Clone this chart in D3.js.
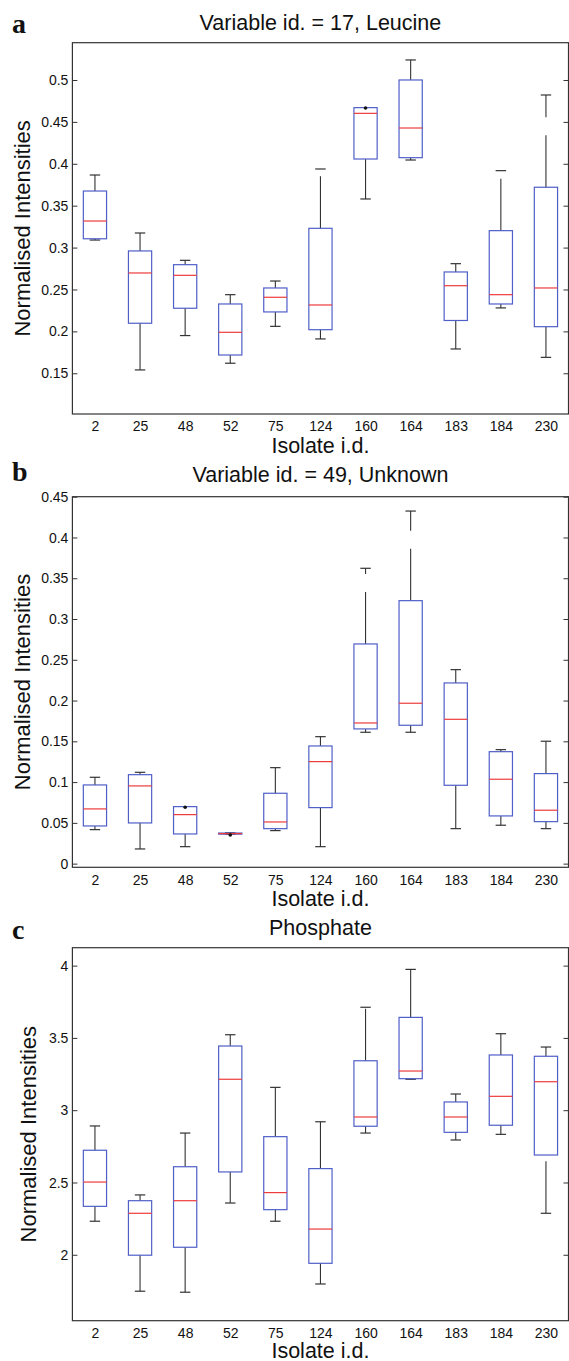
<!DOCTYPE html>
<html>
<head>
<meta charset="utf-8">
<script src="https://cdn.jsdelivr.net/npm/d3@7"></script>
<style>
  body { margin: 0; background: #fff; }
  svg text { font-family: "Liberation Sans", Arial, sans-serif; fill: #111; }
</style>
</head>
<body>
<div id="chart"></div>
<script>
// isolate ids (x categories, same for every panel)
var isolates = ["2", "25", "48", "52", "75", "124", "160", "164", "183", "184", "230"];

// panel a: Variable id. = 17, Leucine
var leuLo  = [0.309, 0.154, 0.195, 0.162, 0.206, 0.191, 0.358, 0.4045, 0.179, 0.228, 0.169];
var leuQ1  = [0.3105, 0.2097, 0.2276, 0.1718, 0.2232, 0.202, 0.4057, 0.4073, 0.213, 0.2327, 0.2056];
var leuMed = [0.3317, 0.2697, 0.2669, 0.1989, 0.2407, 0.2315, 0.4602, 0.4427, 0.2545, 0.2438, 0.2518];
var leuQ3  = [0.3675, 0.296, 0.2796, 0.2327, 0.2518, 0.323, 0.467, 0.5, 0.2709, 0.3202, 0.372];
var leuHi  = [0.3866, 0.3174, 0.2848, 0.2438, 0.2601, 0.3938, 0.467, 0.5239, 0.2808, 0.3918, 0.4821];
var leuOut = [[6, 0.4665]];
var leuTicks = [0.15, 0.2, 0.25, 0.3, 0.35, 0.4, 0.45, 0.5];
var leuTickLabels = ["0.15", "0.2", "0.25", "0.3", "0.35", "0.4", "0.45", "0.5"];

// panel b: Variable id. = 49, Unknown
var unkLo  = [0.0417, 0.018, 0.0208, 0.036, 0.0405, 0.0208, 0.1611, 0.1611, 0.0429, 0.0471, 0.0429];
var unkQ1  = [0.0462, 0.0499, 0.0364, 0.0362, 0.0429, 0.0687, 0.1652, 0.1697, 0.0961, 0.0585, 0.0515];
var unkMed = [0.0671, 0.0953, 0.0601, 0.0368, 0.0511, 0.1251, 0.1725, 0.1967, 0.177, 0.1035, 0.0655];
var unkQ3  = [0.0965, 0.1091, 0.0699, 0.0375, 0.0863, 0.1443, 0.2694, 0.3225, 0.2216, 0.1373, 0.1104];
var unkHi  = [0.1059, 0.112, 0.0699, 0.0378, 0.1177, 0.1557, 0.3622, 0.4324, 0.2379, 0.1398, 0.1501];
var unkOut = [[2, 0.0691], [3, 0.0352]];
var unkTicks = [0, 0.05, 0.1, 0.15, 0.2, 0.25, 0.3, 0.35, 0.4, 0.45];
var unkTickLabels = ["0", "0.05", "0.1", "0.15", "0.2", "0.25", "0.3", "0.35", "0.4", "0.45"];

// panel c: Phosphate
var phoLo  = [2.232, 1.748, 1.741, 2.358, 2.232, 1.798, 2.842, 3.214, 2.794, 2.833, 2.287];
var phoQ1  = [2.335, 1.997, 2.052, 2.573, 2.312, 1.941, 2.889, 3.218, 2.847, 2.896, 2.69];
var phoMed = [2.503, 2.287, 2.374, 3.214, 2.43, 2.178, 2.953, 3.271, 2.953, 3.096, 3.197];
var phoQ3  = [2.723, 2.374, 2.609, 3.444, 2.817, 2.596, 3.342, 3.642, 3.057, 3.382, 3.373];
var phoHi  = [2.891, 2.414, 2.842, 3.522, 3.158, 2.92, 3.712, 3.974, 3.112, 3.529, 3.437];
var phoOut = [];
var phoTicks = [2, 2.5, 3, 3.5, 4];
var phoTickLabels = ["2", "2.5", "3", "3.5", "4"];

var W = 569, H = 1361;
var left = 72.4, right = 568.5;

var svg = d3.select("#chart").append("svg")
    .attr("width", W)
    .attr("height", H);

var panels = [
  {letter: "a", title: "Variable id. = 17, Leucine", top: 42.7, bottom: 414, domain: [0.1014, 0.5445],
   titleY: 30, letterY: 33, ylabX: 30, xlabY: 453,
   lo: leuLo, q1: leuQ1, med: leuMed, q3: leuQ3, hi: leuHi, out: leuOut, ticks: leuTicks, tickLabels: leuTickLabels},
  {letter: "b", title: "Variable id. = 49, Unknown", top: 496.7, bottom: 867.3, domain: [-0.0045, 0.45],
   titleY: 482, letterY: 481, ylabX: 30, xlabY: 906,
   lo: unkLo, q1: unkQ1, med: unkMed, q3: unkQ3, hi: unkHi, out: unkOut, ticks: unkTicks, tickLabels: unkTickLabels},
  {letter: "c", title: "Phosphate", top: 947.7, bottom: 1320.7, domain: [1.544, 4.124],
   titleY: 935, letterY: 939, ylabX: 36, xlabY: 1357.5,
   lo: phoLo, q1: phoQ1, med: phoMed, q3: phoQ3, hi: phoHi, out: phoOut, ticks: phoTicks, tickLabels: phoTickLabels}
];

panels.forEach(function(p) { drawPanel(p); });

function drawPanel(p) {
  var g = svg.append("g");

  var x = d3.scalePoint()
      .domain(isolates)
      .range([left, right])
      .padding(0.5);
  var y = d3.scaleLinear()
      .domain(p.domain)
      .range([p.bottom, p.top]);

  var boxW = x.step() * 0.515;
  var capW = boxW * 0.45;

  // y axis left + right, ticks pointing inwards
  var yl = g.append("g")
      .attr("transform", "translate(" + left + ",0)")
      .call(d3.axisRight(y).tickValues(p.ticks).tickSize(5).tickFormat(""));
  yl.select(".domain").remove();
  yl.selectAll("line").attr("stroke", "#333");
  var yr = g.append("g")
      .attr("transform", "translate(" + right + ",0)")
      .call(d3.axisLeft(y).tickValues(p.ticks).tickSize(5).tickFormat(""));
  yr.select(".domain").remove();
  yr.selectAll("line").attr("stroke", "#333");

  // tick labels
  g.selectAll(".ylab")
    .data(p.ticks)
    .enter().append("text")
      .attr("x", left - 4)
      .attr("y", function(d) { return y(d); })
      .attr("dy", "0.36em")
      .attr("text-anchor", "end")
      .style("font-size", "14px")
      .text(function(d, i) { return p.tickLabels[i]; });

  // x category labels
  var xa = g.append("g")
      .attr("transform", "translate(0," + p.bottom + ")")
      .call(d3.axisBottom(x).tickSize(0).tickPadding(7.5));
  xa.select(".domain").remove();
  xa.selectAll("text")
      .style("font-size", "14px")
      .style("font-family", "Liberation Sans, Arial, sans-serif")
      .attr("fill", "#111");

  // frame
  g.append("rect")
      .attr("x", left).attr("y", p.top)
      .attr("width", right - left).attr("height", p.bottom - p.top)
      .attr("fill", "none").attr("stroke", "#333").attr("stroke-width", 1.2);

  var idx = d3.range(isolates.length);
  var boxes = g.selectAll(".box").data(idx).enter().append("g");

  // upper whisker, dashed from the box upwards
  boxes.append("line")
      .attr("x1", function(i) { return x(isolates[i]); })
      .attr("x2", function(i) { return x(isolates[i]); })
      .attr("y1", function(i) { return y(p.q3[i]); })
      .attr("y2", function(i) { return y(p.hi[i]); })
      .attr("stroke", "#333").attr("stroke-width", 1.1)
      .attr("stroke-dasharray", "52,18");
  // lower whisker, dashed from the cap upwards
  boxes.append("line")
      .attr("x1", function(i) { return x(isolates[i]); })
      .attr("x2", function(i) { return x(isolates[i]); })
      .attr("y1", function(i) { return y(p.lo[i]); })
      .attr("y2", function(i) { return y(p.q1[i]); })
      .attr("stroke", "#333").attr("stroke-width", 1.1)
      .attr("stroke-dasharray", "52,18");

  // caps
  ["hi", "lo"].forEach(function(k) {
    boxes.filter(function(i) { return k == "hi" ? p.hi[i] > p.q3[i] : p.lo[i] < p.q1[i]; })
      .append("line")
        .attr("x1", function(i) { return x(isolates[i]) - capW / 2; })
        .attr("x2", function(i) { return x(isolates[i]) + capW / 2; })
        .attr("y1", function(i) { return y(p[k][i]); })
        .attr("y2", function(i) { return y(p[k][i]); })
        .attr("stroke", "#333").attr("stroke-width", 1.2);
  });

  // box
  boxes.append("rect")
      .attr("x", function(i) { return x(isolates[i]) - boxW / 2; })
      .attr("y", function(i) { return y(p.q3[i]); })
      .attr("width", boxW)
      .attr("height", function(i) { return Math.max(0.5, y(p.q1[i]) - y(p.q3[i])); })
      .attr("fill", "none")
      .attr("stroke", "#4f5fc8").attr("stroke-width", 1.2);

  // median
  boxes.append("line")
      .attr("x1", function(i) { return x(isolates[i]) - boxW / 2; })
      .attr("x2", function(i) { return x(isolates[i]) + boxW / 2; })
      .attr("y1", function(i) { return y(p.med[i]); })
      .attr("y2", function(i) { return y(p.med[i]); })
      .attr("stroke", "#ee3b3b").attr("stroke-width", 1.2);

  // outliers
  g.selectAll(".out").data(p.out).enter().append("circle")
      .attr("cx", function(d) { return x(isolates[d[0]]); })
      .attr("cy", function(d) { return y(d[1]); })
      .attr("r", 1.8)
      .attr("fill", "#111");

  // titles and labels
  g.append("text")
      .attr("x", (left + right) / 2).attr("y", p.titleY)
      .attr("text-anchor", "middle")
      .style("font-size", "21.5px")
      .text(p.title);
  g.append("text")
      .attr("x", 12).attr("y", p.letterY)
      .style("font-family", "Liberation Serif, Times New Roman, serif")
      .style("font-weight", "bold")
      .style("font-size", "28px")
      .text(p.letter);
  g.append("text")
      .attr("x", (left + right) / 2).attr("y", p.xlabY)
      .attr("text-anchor", "middle")
      .style("font-size", "21.5px")
      .text("Isolate i.d.");
  g.append("text")
      .attr("transform", "translate(" + p.ylabX + "," + (p.top + p.bottom) / 2 + ") rotate(-90)")
      .attr("text-anchor", "middle")
      .style("font-size", "22px")
      .text("Normalised Intensities");
}
</script>
</body>
</html>
